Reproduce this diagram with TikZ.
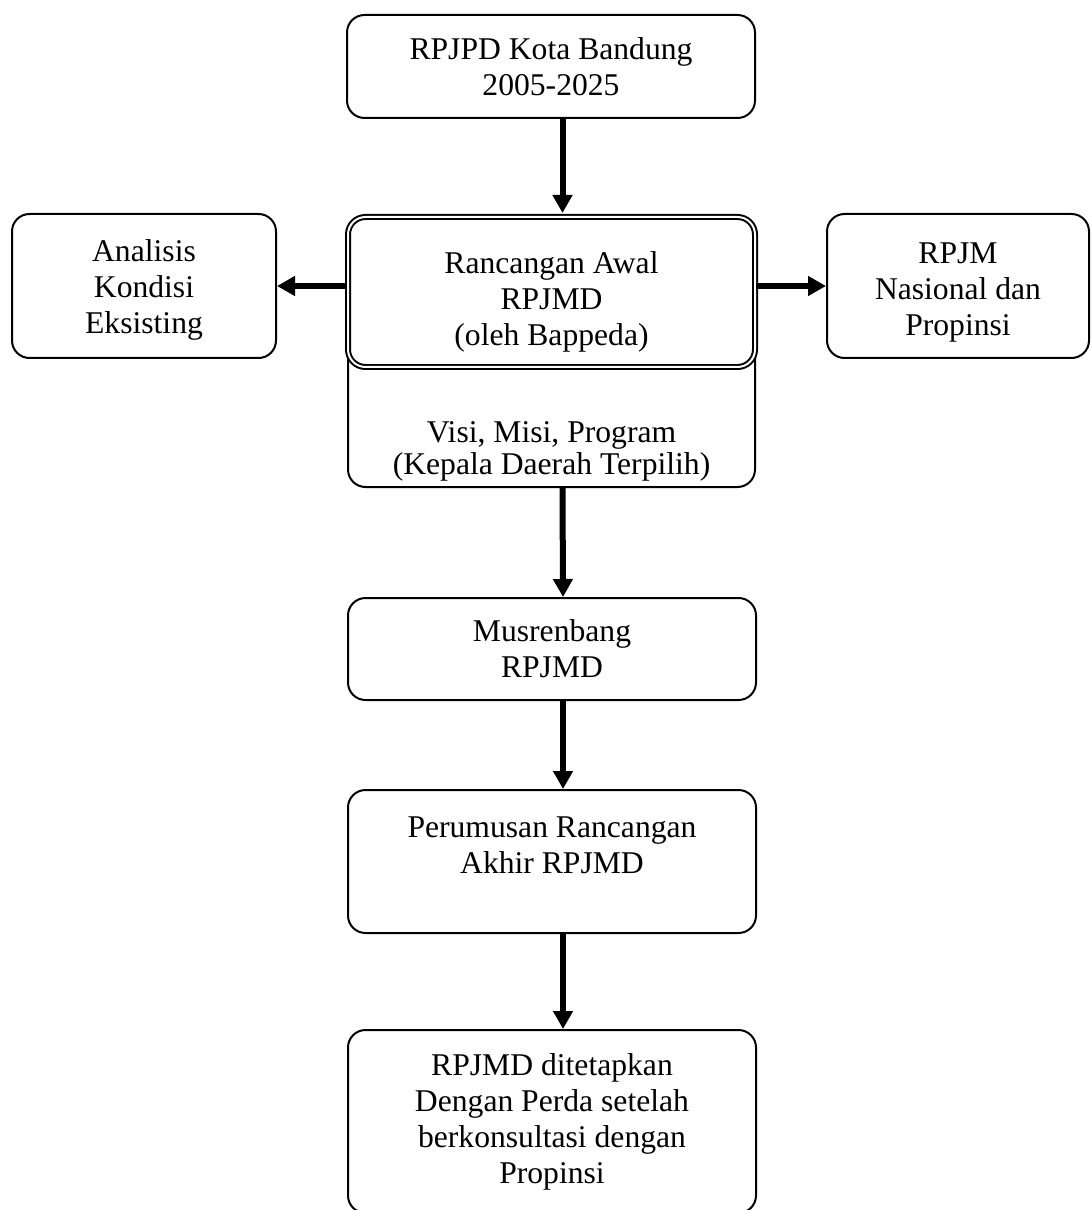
\documentclass[tikz,border=0pt]{standalone}
\usepackage{fontspec}
\setmainfont{Liberation Serif}
\usetikzlibrary{arrows.meta}

\begin{document}
\begin{tikzpicture}[
    box/.style={draw, line width=0.04cm, rounded corners=0.35cm, fill=white, align=center, inner sep=0pt, font=\fontsize{18}{20.5}\selectfont},
    txt/.style={align=center, font=\fontsize{18}{18.2}\selectfont},
    arr/.style={line width=0.12cm, -{Triangle[length=0.36cm, width=0.38cm]}}
  ]
    \useasboundingbox (0,0) rectangle (21.82,-24.2);
    % top
    \node[box, minimum width=8.16cm, minimum height=2.06cm] (rpjpd) at (11.02,-1.33) {RPJPD Kota Bandung\\2005-2025};
    % middle row
    \node[box, minimum width=8.14cm, minimum height=5.41cm] (visi) at (11.03,-7.035) {};
    \node[txt] (visitxt) at (11.03,-9.02) {Visi, Misi, Program\\(Kepala Daerah Terpilih)};
    \node[box, double, double distance=0.04cm, minimum width=8.14cm, minimum height=3.0cm] (awal) at (11.03,-5.84) {\rule{0pt}{24pt}Rancangan Awal\\RPJMD\\(oleh Bappeda)};
    \node[box, minimum width=5.28cm, minimum height=2.88cm] (analisis) at (2.88,-5.72) {\rule{0pt}{17pt}Analisis\\Kondisi\\Eksisting};
    \node[box, minimum width=5.24cm, minimum height=2.88cm] (rpjm) at (19.16,-5.72) {\rule{0pt}{19pt}RPJM\\Nasional dan\\Propinsi};
    % lower column
    \node[box, minimum width=8.16cm, minimum height=2.04cm] (musren) at (11.04,-12.98) {Musrenbang\\RPJMD};
    \node[box, minimum width=8.16cm, minimum height=2.86cm] (rumus) at (11.04,-17.23) {Perumusan Rancangan\\Akhir RPJMD\\[-0.28cm]\strut};
    \node[box, minimum width=8.16cm, minimum height=3.66cm] (akhir) at (11.04,-22.43) {RPJMD ditetapkan\\Dengan Perda setelah\\berkonsultasi dengan\\Propinsi};
    % arrows
    \draw[arr] ([xshift=0.23cm]rpjpd.south) -- ([xshift=0.22cm, yshift=0.06cm]awal.north);
    \draw[arr] (awal.west |- analisis) -- (analisis.east);
    \draw[arr] (awal.east |- rpjm) -- (rpjm.west);
    \draw[arr] ([xshift=0.22cm]visi.south) -- ([xshift=0.22cm]musren.north);
    \draw[arr] ([xshift=0.22cm]musren.south) -- ([xshift=0.22cm]rumus.north);
    \draw[arr] ([xshift=0.22cm]rumus.south) -- ([xshift=0.22cm]akhir.north);
  \end{tikzpicture}
\end{document}
